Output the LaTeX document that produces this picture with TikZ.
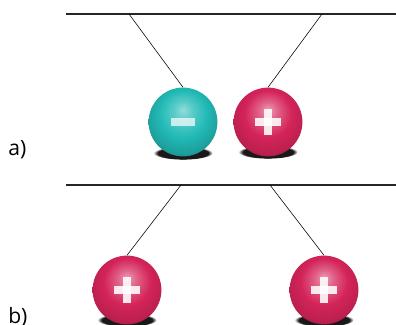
\documentclass[tikz,border=0pt]{standalone}
\usepackage{fontspec}
\setmainfont{Open Sans}
\usepackage{tikz}
\usetikzlibrary{positioning,fadings}
\definecolor{chargered}{HTML}{D42459}
\definecolor{chargecyan}{HTML}{22BAB6}
% glossy spheres, light from the top
\pgfdeclareradialshading{redglow}{\pgfqpoint{0bp}{9bp}}{%
  color(0bp)=(white!55!chargered); color(7bp)=(white!28!chargered);
  color(17bp)=(chargered); color(27bp)=(chargered!88!black);
  color(33bp)=(chargered!62!black); color(50bp)=(chargered!62!black)}
\pgfdeclareradialshading{cyanglow}{\pgfqpoint{0bp}{9bp}}{%
  color(0bp)=(white!50!chargecyan); color(7bp)=(white!25!chargecyan);
  color(17bp)=(chargecyan); color(27bp)=(chargecyan!85!black);
  color(33bp)=(chargecyan!60!black); color(50bp)=(chargecyan!60!black)}
\tikzset{
  rod/.style={line width=1.5pt, black!85},
  thread/.style={thin, black},
  ballbase/.style={circle, minimum size=1.72cm, inner sep=0pt},
  signfill/.style={white, opacity=0.88},
  pball/.style={ballbase, shading=redglow,
    path picture={
      \fill[signfill] ([xshift=-0.33cm,yshift=-0.11cm]path picture bounding box.center)
        rectangle ([xshift=0.33cm,yshift=0.11cm]path picture bounding box.center);
      \fill[signfill] ([xshift=-0.11cm,yshift=-0.33cm]path picture bounding box.center)
        rectangle ([xshift=0.11cm,yshift=0.33cm]path picture bounding box.center);}},
  nball/.style={ballbase, shading=cyanglow,
    path picture={
      \fill[signfill, opacity=0.7] ([xshift=-0.31cm,yshift=-0.1cm]path picture bounding box.center)
        rectangle ([xshift=0.31cm,yshift=0.1cm]path picture bounding box.center);}},
  shade/.style={black, opacity=0.9, path fading=circle with fuzzy edge 15 percent},
  tag/.style={font=\fontsize{15}{17}\selectfont, anchor=base west, inner sep=0pt},
}

\begin{document}
\begin{tikzpicture}[x=0.025cm,y=-0.025cm]
  \useasboundingbox (0,0) rectangle (396,324);
  % a) opposite charges pulled together
  \coordinate (ra) at (66,14);
  \coordinate (rb) at (396,14);
  \draw[rod] (ra) -- (rb);
  \coordinate (na) at (129,14);
  \coordinate (nb) at (322,14);
  \fill[shade] (183,153) ellipse [x radius=0.74cm, y radius=0.17cm];
  \fill[shade] (268,152) ellipse [x radius=0.74cm, y radius=0.17cm];
  \node[nball] (neg) at (183,122) {};
  \node[pball] (pos) at (268,122) {};
  \draw[thread] (na) -- (neg.north);
  \draw[thread] (nb) -- (pos.north);
  \node[tag] (la) at (8,155) {a)};
  % b) like charges pushed apart
  \coordinate (rc) at (66,185);
  \coordinate (rd) at (396,185);
  \draw[rod] (rc) -- (rd);
  \coordinate (nc) at (181,185);
  \coordinate (nd) at (270,185);
  \fill[shade] (127,320) ellipse [x radius=0.74cm, y radius=0.17cm];
  \fill[shade] (324,320) ellipse [x radius=0.74cm, y radius=0.17cm];
  \node[pball] (posl) at (127,290) {};
  \node[pball] (posr) at (324,290) {};
  \draw[thread] (nc) -- (posl.north);
  \draw[thread] (nd) -- (posr.north);
  \node[tag] (lb) at (8,323) {b)};
\end{tikzpicture}
\end{document}
